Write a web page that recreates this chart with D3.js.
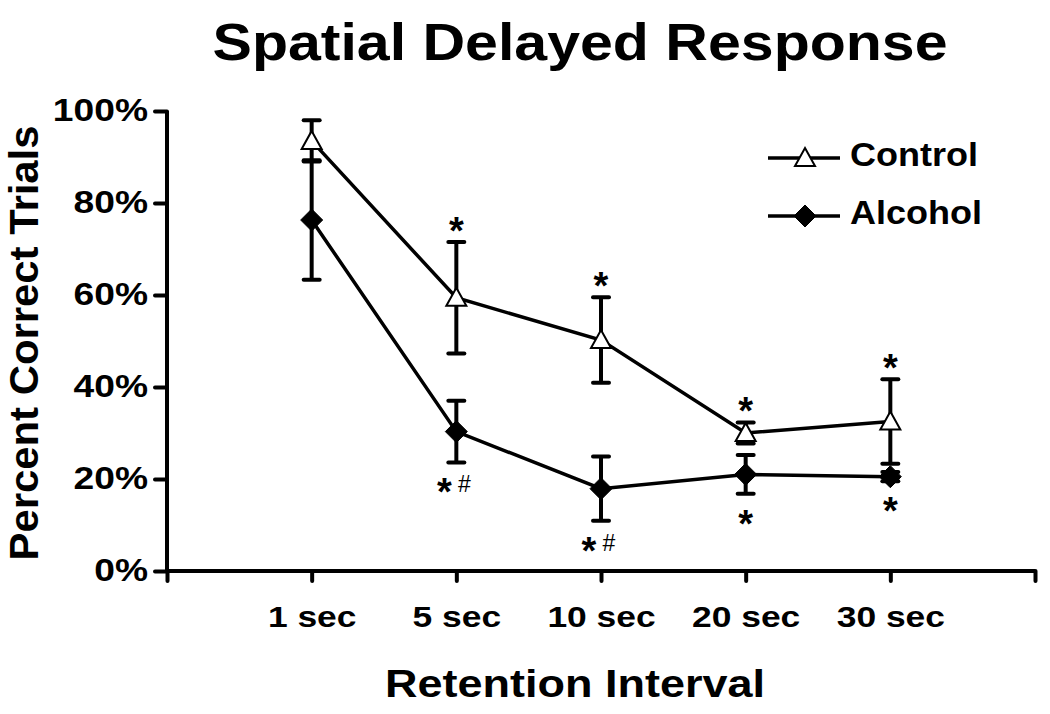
<!DOCTYPE html>
<html>
<head>
<meta charset="utf-8">
<script src="https://cdn.jsdelivr.net/npm/d3@7"></script>
<style>
  body { margin: 0; background: #fff; }
  svg text { font-family: "Liberation Sans", Arial, sans-serif; fill: #000; }
</style>
</head>
<body>
<div id="chart"></div>
<script>
// categories and series values (percent correct, mean and SE)
var intervals = ["1 sec", "5 sec", "10 sec", "20 sec", "30 sec"];
var controlMean = [93.5, 59.4, 50.2, 30.0, 32.5];
var controlErr = [4.5, 12.1, 9.3, 2.3, 9.2];
var alcoholMean = [76.3, 30.3, 17.9, 21.0, 20.5];
var alcoholErr = [13.0, 6.7, 7.0, 4.2, 1.0];
var yTicks = [0, 20, 40, 60, 80, 100];

// significance marks: star above control, star(#) below alcohol
var controlMarks = ["", "*", "*", "*", "*"];
var alcoholMarks = ["", "*#", "*#", "*", "*"];

var width = 1050, height = 714;
var margin = {top: 111, right: 15, bottom: 143, left: 167};

var svg = d3.select("#chart").append("svg")
    .attr("width", width)
    .attr("height", height);

var x = d3.scaleLinear()
    .domain([0, intervals.length + 1])
    .range([margin.left, width - margin.right]);

var y = d3.scaleLinear()
    .domain([0, 100])
    .range([height - margin.bottom, margin.top]);

// the original glyphs are a bit wider than Arial, stretch them horizontally
function stretch(sel, sx) {
    sel.each(function() {
        var t = d3.select(this);
        var tx = +t.attr("x") || 0, ty = +t.attr("y") || 0;
        t.attr("x", 0).attr("y", 0)
            .attr("transform", "translate(" + tx + "," + ty + ") scale(" + sx + ",1)");
    });
}

// title
svg.append("text")
    .attr("x", 580)
    .attr("y", 60)
    .attr("text-anchor", "middle")
    .attr("textLength", 735)
    .attr("lengthAdjust", "spacingAndGlyphs")
    .style("font-size", "52px")
    .style("font-weight", "bold")
    .text("Spatial Delayed Response");

// y axis
var yAxis = d3.axisLeft(y)
    .tickValues(yTicks)
    .tickFormat(function(d) { return d + "%"; })
    .tickSize(12)
    .tickPadding(7);

var gy = svg.append("g")
    .attr("transform", "translate(" + margin.left + ",0)")
    .call(yAxis);
gy.select(".domain").attr("stroke-width", 4).attr("d", "M0," + y(0) + "V" + y(100));
gy.selectAll(".tick line").attr("stroke-width", 4).attr("stroke-linecap", "round");
gy.selectAll(".tick text")
    .style("font-size", "31px")
    .style("font-weight", "bold")
    .call(stretch, 1.2);

// x axis
var xAxis = d3.axisBottom(x)
    .tickValues(d3.range(0, intervals.length + 2))
    .tickFormat(function(d) { return intervals[d - 1] || ""; })
    .tickSize(10)
    .tickPadding(0);

var gx = svg.append("g")
    .attr("transform", "translate(0," + y(0) + ")")
    .call(xAxis);
gx.select(".domain").attr("stroke-width", 4)
    .attr("d", "M" + x(0) + ",0H" + x(intervals.length + 1));
gx.selectAll(".tick line").attr("stroke-width", 4).attr("stroke-linecap", "round");
gx.selectAll(".tick text")
    .attr("y", 56)
    .attr("dy", null)
    .style("font-size", "30px")
    .style("font-weight", "bold")
    .call(stretch, 1.18);

// axis titles
svg.append("text")
    .attr("transform", "translate(38," + ((y(0) + y(100)) / 2 + 2) + ") rotate(-90)")
    .attr("text-anchor", "middle")
    .attr("textLength", 435)
    .attr("lengthAdjust", "spacingAndGlyphs")
    .style("font-size", "40px")
    .style("font-weight", "bold")
    .text("Percent Correct Trials");

svg.append("text")
    .attr("x", 575)
    .attr("y", 697)
    .attr("text-anchor", "middle")
    .attr("textLength", 380)
    .attr("lengthAdjust", "spacingAndGlyphs")
    .style("font-size", "38px")
    .style("font-weight", "bold")
    .text("Retention Interval");

var series = [
    {name: "Control", mean: controlMean, err: controlErr, marker: "triangle"},
    {name: "Alcohol", mean: alcoholMean, err: alcoholErr, marker: "diamond"}
];

var line = d3.line()
    .x(function(d, i) { return x(i + 1); })
    .y(function(d) { return y(d); });

function drawMarker(g, type) {
    if (type === "triangle") {
        g.append("path")
            .attr("d", "M0,-10L10,8L-10,8Z")
            .attr("fill", "#fff")
            .attr("stroke", "#000")
            .attr("stroke-width", 2);
    } else {
        g.append("path")
            .attr("d", "M0,-11L11,0L0,11L-11,0Z")
            .attr("fill", "#000")
            .attr("stroke", "#000")
            .attr("stroke-width", 1);
    }
}

// error bars first, then lines, then markers
series.forEach(function(s) {
    var eb = svg.append("g");
    s.mean.forEach(function(m, i) {
        var cx = x(i + 1);
        eb.append("line")
            .attr("x1", cx).attr("x2", cx)
            .attr("y1", y(m - s.err[i])).attr("y2", y(m + s.err[i]))
            .attr("stroke", "#000").attr("stroke-width", 4);
        [m - s.err[i], m + s.err[i]].forEach(function(v) {
            eb.append("line")
                .attr("x1", cx - 8).attr("x2", cx + 8)
                .attr("y1", y(v)).attr("y2", y(v))
                .attr("stroke", "#000").attr("stroke-width", 4)
                .attr("stroke-linecap", "round");
        });
    });
});

series.forEach(function(s) {
    svg.append("path")
        .datum(s.mean)
        .attr("d", line)
        .attr("fill", "none")
        .attr("stroke", "#000")
        .attr("stroke-width", 3.5);
});

series.forEach(function(s) {
    s.mean.forEach(function(m, i) {
        var g = svg.append("g").attr("transform", "translate(" + x(i + 1) + "," + y(m) + ")");
        drawMarker(g, s.marker);
    });
});

// significance annotations, cy is the centre of the star
function drawMark(txt, cx, cy) {
    if (!txt) return;
    var starX = txt.length > 1 ? cx - 12 : cx;
    svg.append("text")
        .attr("x", starX)
        .attr("y", cy + 21)
        .attr("text-anchor", "middle")
        .style("font-size", "38px")
        .style("font-weight", "bold")
        .text("*");
    if (txt.length > 1) {
        svg.append("text")
            .attr("x", cx + 8)
            .attr("y", cy + 8)
            .attr("text-anchor", "middle")
            .style("font-size", "23px")
            .text("#");
    }
}

controlMean.forEach(function(m, i) {
    drawMark(controlMarks[i], x(i + 1), y(m + controlErr[i]) - 19);
});
alcoholMean.forEach(function(m, i) {
    drawMark(alcoholMarks[i], x(i + 1), y(m - alcoholErr[i]) + 22);
});

// legend
var legend = svg.append("g").attr("transform", "translate(768,0)");
series.forEach(function(s, i) {
    var ly = 158 + i * 58;
    legend.append("line")
        .attr("x1", 0).attr("x2", 72)
        .attr("y1", ly).attr("y2", ly)
        .attr("stroke", "#000").attr("stroke-width", 3.5);
    drawMarker(legend.append("g").attr("transform", "translate(37," + ly + ")"), s.marker);
    legend.append("text")
        .attr("x", 82)
        .attr("y", ly + 8)
        .style("font-size", "34px")
        .style("font-weight", "bold")
        .text(s.name)
        .call(stretch, 1.06);
});
</script>
</body>
</html>
